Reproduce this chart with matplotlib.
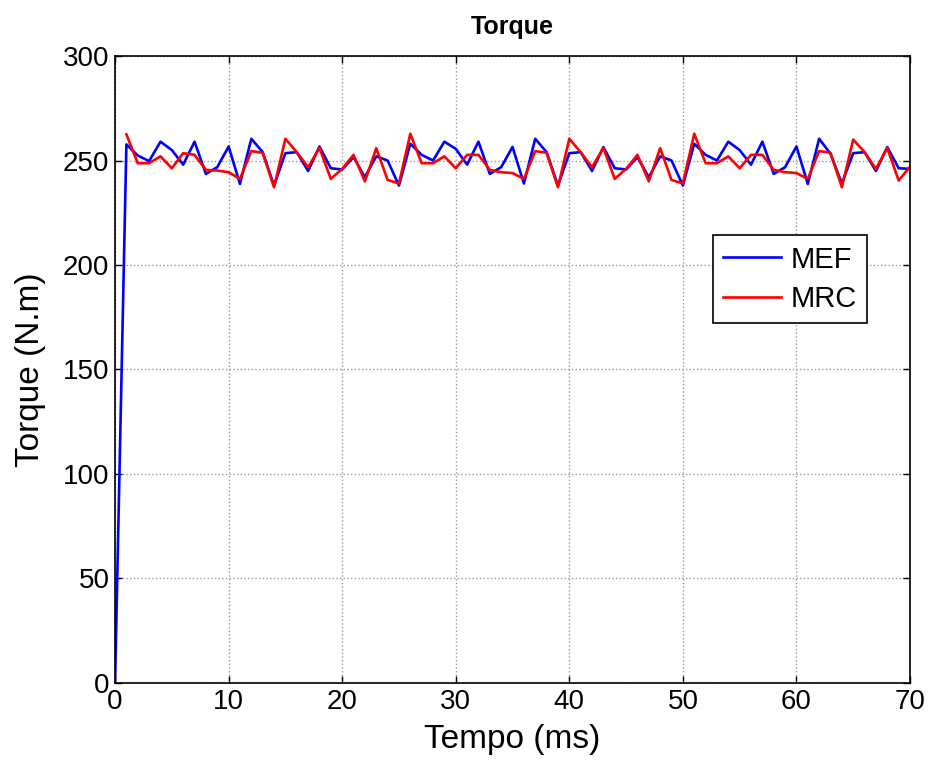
import numpy as np
import matplotlib.pyplot as plt

plt.rcParams['font.family'] = ['Liberation Sans', 'DejaVu Sans']

tempo = np.arange(0, 71)

# MEF starts at 0 at t = 0
mef = [0, 257.7, 252.4, 249.7, 259, 255, 248, 259, 243.6, 246.8,
       256.7, 238.8, 260.4, 254, 238, 253.5, 254, 245, 256.7, 246.3,
       245.7, 251.6, 242, 252, 250, 238, 258, 252.7, 250, 259,
       255.6, 248, 259, 243.6, 246.8, 256.5, 239, 260.4, 254, 238,
       253.5, 254, 245, 256.4, 246.3, 245.7, 251.6, 242, 252, 250,
       238, 258, 252.7, 250, 259, 255, 248, 259, 243.6, 246.8,
       256.7, 238.8, 260.4, 253.2, 239, 253.5, 254, 245, 256.4, 246.3,
       246]

# MRC starts at t = 1
mrc = [262.5, 248.7, 248.7, 252, 246.3, 253.5, 252.7, 245.5, 245.2,
       244.4, 241.2, 254.5, 253.7, 237.2, 260.4, 254, 246.8, 256, 241.2,
       246, 252.7, 240, 255.9, 240.7, 239, 262.8, 248.7, 248.7, 252,
       246.3, 252.7, 252.7, 245.5, 244.4, 244, 241.2, 254.5, 253.7, 237.2,
       260.4, 254, 246.8, 256, 241.2, 246, 252.7, 240, 255.9, 240.7,
       239, 262.8, 248.7, 248.7, 252, 246.3, 252.7, 252.7, 245.5, 244.4,
       244, 241.2, 254.5, 253.7, 237.2, 260, 254, 246, 256, 240.4,
       247]

fig = plt.figure(figsize=(9.3, 7.62), dpi=100)
ax = fig.add_axes([0.1237, 0.1037, 0.8548, 0.8228])

ax.plot(tempo, mef, color='#0000ff', lw=1.9, label='MEF')
ax.plot(tempo[1:], mrc, color='#ff0000', lw=1.9, label='MRC')

ax.set_xlim(0, 70)
ax.set_ylim(0, 300)
ax.set_xticks(np.arange(0, 71, 10))
ax.set_yticks(np.arange(0, 301, 50))
ax.grid(True, color='#999999', linestyle=':', linewidth=1.0)
ax.tick_params(direction='in', top=True, right=True, labelsize=20, length=5, width=1, pad=4)
for s in ax.spines.values():
    s.set_linewidth(1.2)

ax.set_xlabel('Tempo (ms)', fontsize=24, labelpad=7)
ax.set_ylabel('Torque (N.m)', fontsize=24, labelpad=12)
ax.set_title('Torque', fontsize=18, fontweight='bold', pad=16)

leg = ax.legend(loc='upper left', bbox_to_anchor=(0.752, 0.714), fontsize=21,
                fancybox=False, framealpha=1, edgecolor='black',
                handlelength=2.0, handletextpad=0.3, borderpad=0.35,
                labelspacing=0.4, borderaxespad=0)
leg.get_frame().set_linewidth(1.2)

plt.savefig('out.png', dpi=100)
